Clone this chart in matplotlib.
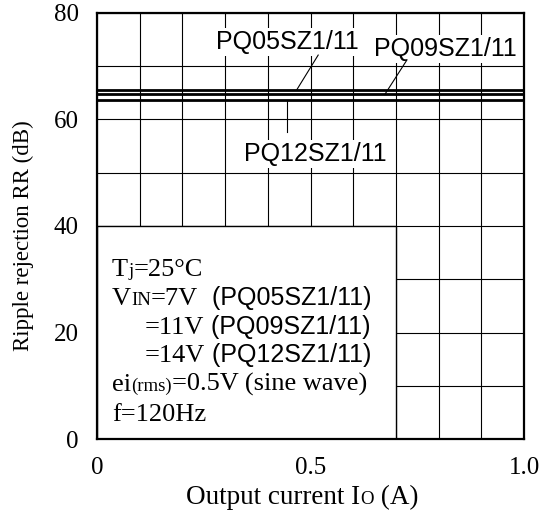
import matplotlib
matplotlib.use("Agg")
import matplotlib.pyplot as plt
import numpy as np
from matplotlib.patches import Rectangle

# ---- data ----
series_names = ["PQ05SZ1/11", "PQ09SZ1/11", "PQ12SZ1/11"]
output_current = [0.0, 1.0]
ripple_rejection = {
    "PQ05SZ1/11": [65.6, 65.6],
    "PQ09SZ1/11": [64.7, 64.7],
    "PQ12SZ1/11": [63.6, 63.6],
}
xtick_vals = [0, 0.5, 1.0]
xtick_labels = ["0", "0.5", "1.0"]
ytick_vals = [0, 20, 40, 60, 80]
ytick_labels = ["0", "20", "40", "60", "80"]

SERIF = "Liberation Serif"
SANS = "Liberation Sans"

fig = plt.figure(figsize=(5.56, 5.14), dpi=100)
ax = fig.add_axes([97/556, 1-439/514, 427/556, 426/514])
ax.set_xlim(0, 1.0)
ax.set_ylim(0, 80)

ax.set_xticks(xtick_vals)
ax.set_xticklabels(xtick_labels, fontfamily=SERIF, fontsize=18)
ax.set_yticks(ytick_vals)
ax.set_yticklabels(ytick_labels, fontfamily=SERIF, fontsize=18)
ax.set_xticks(np.arange(0, 1.0001, 0.1), minor=True)
ax.set_yticks(np.arange(0, 80.001, 10), minor=True)
ax.tick_params(which="both", length=0)
ax.tick_params(axis="x", pad=13)
ax.tick_params(axis="y", pad=13)
ax.grid(True, which="both", color="black", linewidth=0.8, zorder=1)
ax.set_axisbelow(True)
for s in ax.spines.values():
    s.set_linewidth(1.6)
    s.set_zorder(10)

for name in series_names:
    ax.plot(output_current, ripple_rejection[name], color="black", linewidth=2.0,
            solid_capstyle="butt", zorder=5)

# white condition box covering the grid
ax.add_patch(Rectangle((0, 0), 0.7, 40, facecolor="white", edgecolor="black",
                       linewidth=1.0, zorder=3))

# series labels with leaders
tb = dict(facecolor="white", edgecolor="none", pad=1.5)
ax.text(0.445, 73.2, "PQ05SZ1/11", fontfamily=SANS, fontsize=18, ha="center",
        va="baseline", bbox=tb, zorder=6)
ax.text(0.815, 71.9, "PQ09SZ1/11", fontfamily=SANS, fontsize=18, ha="center",
        va="baseline", bbox=tb, zorder=6)
ax.text(0.512, 52.3, "PQ12SZ1/11", fontfamily=SANS, fontsize=18, ha="center",
        va="baseline", bbox=tb, zorder=6)
ax.plot([0.518, 0.468], [72.1, 65.6], color="black", linewidth=0.8, zorder=6)
ax.plot([0.726, 0.674], [71.2, 64.7], color="black", linewidth=0.8, zorder=6)
ax.plot([0.445, 0.445], [63.6, 57.6], color="black", linewidth=0.8, zorder=6)

renderer = fig.canvas.get_renderer()


def rich_line(x, y, pieces, coords="data", align="left"):
    arts = []
    widths = []
    for s, props in pieces:
        p = dict(props)
        dy = p.pop("dy", 0)
        t = ax.annotate(s, xy=(x, y), xycoords=coords, xytext=(0, dy),
                        textcoords="offset points", va="baseline", ha="left",
                        annotation_clip=False, zorder=7, **p)
        arts.append((t, dy))
        widths.append(t.get_window_extent(renderer).width * 72 / fig.dpi)
    total = sum(widths)
    off = -total / 2 if align == "center" else 0
    for (t, dy), w in zip(arts, widths):
        t.set_position((off, dy))
        off += w


ser = dict(fontfamily=SERIF, fontsize=19)
ser_s = dict(fontfamily=SERIF, fontsize=13.5)
san = dict(fontfamily=SANS, fontsize=18)

def py2d(py):
    return 80 - (py - 13) / (426 / 80)

x0 = 0.035
x1 = 0.112
rich_line(x0, py2d(276), [("T", ser), ("j", ser_s), ("=25°C", ser)])
rich_line(x0, py2d(305), [("V", ser), ("IN", ser_s), ("=7V", ser), ("  (PQ05SZ1/11)", san)])
rich_line(x1, py2d(334), [("=11V", ser), (" (PQ09SZ1/11)", san)])
rich_line(x1, py2d(362), [("=14V", ser), (" (PQ12SZ1/11)", san)])
rich_line(x0, py2d(391), [("ei", ser), ("(rms)", ser_s), ("=0.5V (sine wave)", ser)])
rich_line(x0, py2d(421), [("f=120Hz", ser)])

# x label
lab = dict(fontfamily=SERIF, fontsize=19.5)
lab_s = dict(fontfamily=SERIF, fontsize=13.5)
rich_line(302 / 556, 1 - 504 / 514,
          [("Output current I", lab), ("O", lab_s), (" (A)", lab)],
          coords="figure fraction", align="center")

fig.text(23 / 556, 1 - 236 / 514, "Ripple rejection RR (dB)", fontfamily=SERIF,
         fontsize=16.5, rotation=90, ha="center", va="center")

fig.savefig("out.png", dpi=100)
